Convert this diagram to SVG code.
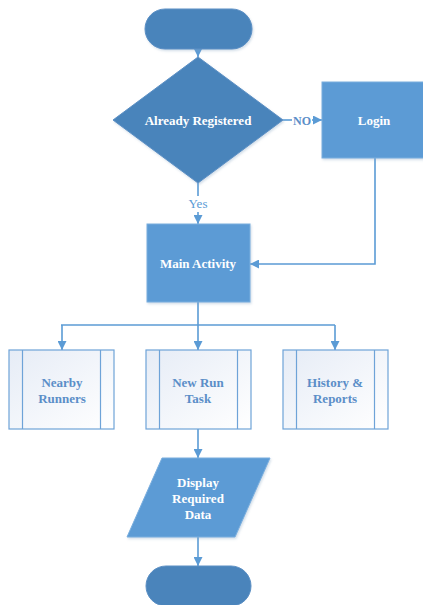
<svg xmlns="http://www.w3.org/2000/svg" width="423" height="605" viewBox="0 0 423 605">
  <defs>
    <marker id="arrow" viewBox="0 0 10 10" refX="10" refY="5" markerWidth="9" markerHeight="9" markerUnits="userSpaceOnUse" orient="auto">
      <path d="M0,0 L10,5 L0,10 Z" fill="#5b9bd5"/>
    </marker>
    <linearGradient id="subFill" x1="0" y1="0" x2="1" y2="1">
      <stop offset="0" stop-color="#e6ecf6"/>
      <stop offset="1" stop-color="#ffffff"/>
    </linearGradient>
    <filter id="shadow" x="-10%" y="-10%" width="130%" height="130%">
      <feDropShadow dx="1" dy="1.5" stdDeviation="1.2" flood-color="#7f9fbf" flood-opacity="0.35"/>
    </filter>
  </defs>
  <style>
    .dark { fill: #4a84bb; stroke: #5b8fc4; stroke-width: 1; }
    .mid { fill: #5b9bd5; stroke: #7aaede; stroke-width: 1; }
    .sub { fill: url(#subFill); stroke: #6ea3d8; stroke-width: 1.2; }
    .band { stroke: #6ea3d8; stroke-width: 1.2; }
    .lbl { font-family: "Liberation Serif", "Times New Roman", serif; font-weight: bold; font-size: 13px; text-anchor: middle; }
    .white { fill: #ffffff; }
    .blue { fill: #5b8ec8; }
    .conn { stroke: #5b9bd5; stroke-width: 1.6; fill: none; }
  </style>

  <rect width="423" height="605" fill="#ffffff"/>

  <!-- connectors -->
  <g id="connectors">
    <line class="conn" x1="198" y1="49" x2="198" y2="57" marker-end="url(#arrow)"/>
    <line class="conn" x1="283" y1="120" x2="292" y2="120"/>
    <line class="conn" x1="312" y1="120" x2="322" y2="120" marker-end="url(#arrow)"/>
    <text x="302" y="124.5" class="lbl" style="font-size:12px;fill:#5b8ec8">NO</text>
    <line class="conn" x1="198" y1="183" x2="198" y2="196"/>
    <text x="198" y="208" style="font-family:'Liberation Serif','Times New Roman',serif;font-size:13px;fill:#5b9bd5;text-anchor:middle">Yes</text>
    <line class="conn" x1="198" y1="212" x2="198" y2="224" marker-end="url(#arrow)"/>
    <polyline class="conn" points="375,158 375,264 250,264" marker-end="url(#arrow)"/>
    <line class="conn" x1="198" y1="302" x2="198" y2="325"/>
    <line class="conn" x1="61" y1="325" x2="335" y2="325"/>
    <line class="conn" x1="62" y1="325" x2="62" y2="350" marker-end="url(#arrow)"/>
    <line class="conn" x1="198" y1="325" x2="198" y2="350" marker-end="url(#arrow)"/>
    <line class="conn" x1="335" y1="325" x2="335" y2="350" marker-end="url(#arrow)"/>
    <line class="conn" x1="198" y1="429" x2="198" y2="458" marker-end="url(#arrow)"/>
    <line class="conn" x1="198" y1="537" x2="198" y2="566" marker-end="url(#arrow)"/>
  </g>

  <!-- start terminator -->
  <g id="start">
    <rect class="dark" x="145" y="9" width="107" height="40" rx="20" ry="20" filter="url(#shadow)"/>
  </g>

  <!-- decision -->
  <g id="already-registered">
    <polygon class="dark" points="198,57 283,120 198,183 113,120" filter="url(#shadow)"/>
    <text x="198" y="124.5" class="lbl white">Already Registered</text>
  </g>

  <!-- login -->
  <g id="login">
    <rect class="mid" x="322" y="82" width="103" height="76" filter="url(#shadow)"/>
    <text x="374" y="124.5" class="lbl white">Login</text>
  </g>

  <!-- main activity -->
  <g id="main-activity">
    <rect class="mid" x="147" y="224" width="103" height="78" filter="url(#shadow)"/>
    <text x="198" y="267.5" class="lbl white">Main Activity</text>
  </g>

  <!-- predefined processes -->
  <g id="nearby-runners">
    <rect class="sub" x="9" y="350" width="105" height="79"/>
    <line class="band" x1="22.5" y1="350" x2="22.5" y2="429"/>
    <line class="band" x1="100.5" y1="350" x2="100.5" y2="429"/>
    <text x="62" y="387" class="lbl blue">Nearby</text>
    <text x="62" y="403" class="lbl blue">Runners</text>
  </g>

  <g id="new-run-task">
    <rect class="sub" x="146" y="350" width="105" height="79"/>
    <line class="band" x1="159.5" y1="350" x2="159.5" y2="429"/>
    <line class="band" x1="237.5" y1="350" x2="237.5" y2="429"/>
    <text x="198" y="387" class="lbl blue">New Run</text>
    <text x="198" y="403" class="lbl blue">Task</text>
  </g>

  <g id="history-reports">
    <rect class="sub" x="283" y="350" width="105" height="79"/>
    <line class="band" x1="296.5" y1="350" x2="296.5" y2="429"/>
    <line class="band" x1="374.5" y1="350" x2="374.5" y2="429"/>
    <text x="335" y="387" class="lbl blue">History &amp;</text>
    <text x="335" y="403" class="lbl blue">Reports</text>
  </g>

  <!-- output -->
  <g id="display-required-data">
    <polygon class="mid" points="162,458 270,458 235,537 127,537" filter="url(#shadow)"/>
    <text x="198" y="487" class="lbl white">Display</text>
    <text x="198" y="503" class="lbl white">Required</text>
    <text x="198" y="519" class="lbl white">Data</text>
  </g>

  <!-- end terminator -->
  <g id="end">
    <rect class="dark" x="146" y="566" width="105" height="40" rx="20" ry="20"/>
  </g>
</svg>
